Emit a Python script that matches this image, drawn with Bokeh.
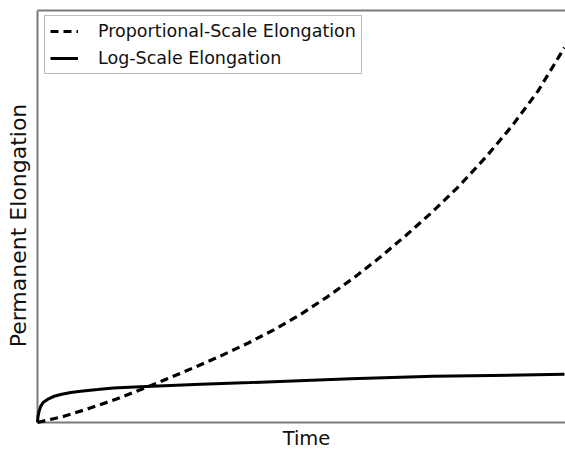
import math
from bokeh.plotting import figure
from bokeh.models import Range1d, Legend, LegendItem, Label
from bokeh.embed import file_html
from bokeh.resources import INLINE

# Normalised time axis and elongation values for both scales
time = [0.00, 0.05, 0.10, 0.15, 0.20, 0.25, 0.30, 0.35, 0.40, 0.45, 0.50,
        0.55, 0.60, 0.65, 0.70, 0.75, 0.80, 0.85, 0.90, 0.95, 1.00]
proportional_elongation = [0.000, 0.015, 0.035, 0.057, 0.082, 0.108, 0.135, 0.163,
                           0.193, 0.226, 0.263, 0.305, 0.351, 0.401, 0.455, 0.512,
                           0.574, 0.643, 0.719, 0.805, 0.910]

log_time = [0.000, 0.001, 0.003, 0.006, 0.011, 0.019, 0.030, 0.044, 0.063, 0.082,
            0.114, 0.144, 0.195, 0.310, 0.404, 0.594, 0.751, 1.000]
log_elongation = [0.000, 0.015, 0.027, 0.039, 0.049, 0.056, 0.063, 0.068, 0.073,
                  0.076, 0.080, 0.084, 0.087, 0.093, 0.097, 0.106, 0.112, 0.117]

x_title = "Time"
y_title = "Permanent Elongation"

FONT = "DejaVu Sans"
FRAME_COLOR = "#7a7a7a"
TEXT_COLOR = "#111111"

W, H = 565, 449
# plot box in pixels: left 37, right 564, top 10, bottom 422
BOX_L, BOX_R, BOX_T, BOX_B = 37, 564, 10, 422
sx = 1.0 / (BOX_R - BOX_L)
sy = 1.0 / (BOX_B - BOX_T)
x_range = Range1d(-BOX_L * sx, 1 + (W - BOX_R) * sx)
y_range = Range1d(-(H - BOX_B) * sy, 1 + BOX_T * sy)

p = figure(width=W, height=H, output_backend="svg", toolbar_location=None,
           x_range=x_range, y_range=y_range, min_border=0)

p.background_fill_color = "white"
p.border_fill_color = "white"
p.outline_line_color = None
p.xgrid.grid_line_color = None
p.ygrid.grid_line_color = None
p.xaxis.visible = False
p.yaxis.visible = False

# box edges: left, top and bottom (the right edge runs off the page)
x_end = x_range.end
p.multi_line(xs=[[0, 0], [0, x_end], [0, x_end]], ys=[[0, 1], [1, 1], [0, 0]],
             line_color=FRAME_COLOR, line_width=2)

# axis titles, in pixels from the lower-left corner
p.add_layout(Label(x=306, y=H - 426, x_units="screen", y_units="screen", text=x_title,
                   text_font=FONT, text_font_size="19.5px", text_color=TEXT_COLOR,
                   text_align="center", text_baseline="top"))
p.add_layout(Label(x=18, y=H - 225, x_units="screen", y_units="screen", text=y_title,
                   angle=math.pi / 2, text_font=FONT, text_font_size="22px",
                   text_color=TEXT_COLOR, text_align="center",
                   text_baseline="middle"))

r_prop = p.line(time, proportional_elongation, line_color="black", line_width=3.2,
                line_dash="8 5")
r_log = p.line(log_time, log_elongation, line_color="black", line_width=3)

legend = Legend(items=[
    LegendItem(label="Proportional-Scale Elongation", renderers=[r_prop]),
    LegendItem(label="Log-Scale Elongation", renderers=[r_log]),
], location=(44, H - 74))
legend.margin = 0
legend.padding = 5
legend.spacing = 7
legend.label_height = 18
legend.glyph_height = 18
legend.glyph_width = 28
legend.label_standoff = 20
legend.label_text_font = FONT
legend.label_text_font_size = "17.5px"
legend.label_text_color = TEXT_COLOR
legend.border_line_color = FRAME_COLOR
legend.border_line_width = 1.5
legend.background_fill_alpha = 1
p.add_layout(legend)

open("out.html", "w").write(file_html(p, INLINE))
